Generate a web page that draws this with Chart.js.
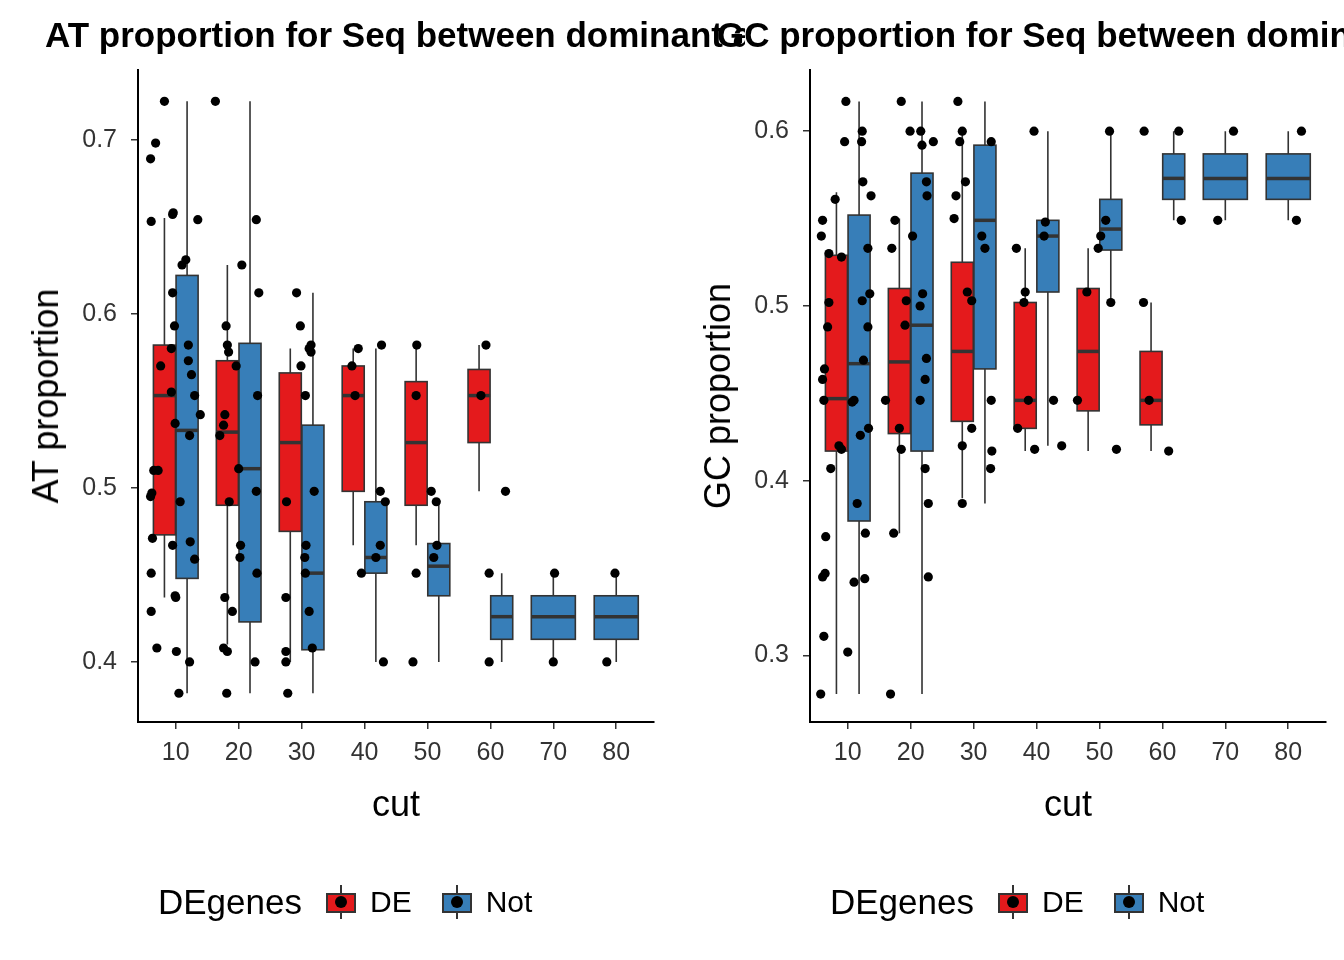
<!DOCTYPE html>
<html>
<head>
<meta charset="utf-8">
<script src="https://cdn.jsdelivr.net/npm/chart.js@4.4.1/dist/chart.umd.min.js"></script>
<style>
  body { margin: 0; background: #fff; font-family: "Liberation Sans", Arial, sans-serif; }
  .panel { position: absolute; top: 0; width: 672px; height: 960px; }
  .panel canvas { position: absolute; left: 0; top: 0; }
  .clip { position: absolute; top: 0; left: 0; width: 745px; height: 80px; overflow: hidden; }
  .title { position: absolute; top: 15px; left: 45px; white-space: nowrap; font-weight: bold; font-size: 35px; color: #000; }
  .ytitle { position: absolute; left: 46px; top: 396px; font-size: 36px; transform: translate(-50%, -50%) rotate(-90deg); white-space: nowrap; }
  .xtitle { position: absolute; top: 783px; font-size: 36px; transform: translateX(-50%); }
  .legend { position: absolute; top: 882px; left: 158px; font-size: 35px; display: flex; align-items: center; white-space: nowrap; }
  .key { position: relative; width: 30px; height: 26px; margin: 0 14px 0 24px; }
  .key .bx { position: absolute; left: 0; top: 4px; width: 26px; height: 16px; border: 2px solid #333; }
  .key .ln { position: absolute; left: 14px; top: -4px; width: 2px; height: 34px; background: #333; }
  .key .dt { position: absolute; left: 9px; top: 7px; width: 12px; height: 12px; border-radius: 50%; background: #000; }
  .lab { font-size: 30px; margin-right: 6px; }
</style>
</head>
<body>
<div class="panel" style="left:0">
  <canvas id="at" width="672" height="960"></canvas>
  <div class="clip"><div class="title">AT proportion for Seq between dominant and recessive</div></div>
  <div class="ytitle">AT proportion</div>
  <div class="xtitle" style="left:396px">cut</div>
  <div class="legend">DEgenes
    <div class="key"><div class="ln"></div><div class="bx" style="background:#E41A1C"></div><div class="dt"></div></div><span class="lab">DE</span>
    <div class="key"><div class="ln"></div><div class="bx" style="background:#377EB8"></div><div class="dt"></div></div><span class="lab">Not</span>
  </div>
</div>
<div class="panel" style="left:672px">
  <canvas id="gc" width="672" height="960"></canvas>
  <div class="clip" style="width:672px"><div class="title">GC proportion for Seq between dominant and recessive</div></div>
  <div class="ytitle">GC proportion</div>
  <div class="xtitle" style="left:396px">cut</div>
  <div class="legend">DEgenes
    <div class="key"><div class="ln"></div><div class="bx" style="background:#E41A1C"></div><div class="dt"></div></div><span class="lab">DE</span>
    <div class="key"><div class="ln"></div><div class="bx" style="background:#377EB8"></div><div class="dt"></div></div><span class="lab">Not</span>
  </div>
</div>
<script>
const cuts = [10, 20, 30, 40, 50, 60, 70, 80]
const xTicks = [10, 20, 30, 40, 50, 60, 70, 80]

// [low whisker, q1, median, q3, high whisker]; null where group is absent
const atDE = [
  [0.437, 0.473, 0.553, 0.582, 0.655], [0.41, 0.49, 0.532, 0.573, 0.628], [0.40, 0.475, 0.526, 0.566, 0.58],
  [0.467, 0.498, 0.553, 0.57, 0.58], [0.467, 0.49, 0.526, 0.561, 0.582], [0.498, 0.526, 0.553, 0.568, 0.582], null, null
]
const atNot = [
  [0.382, 0.448, 0.533, 0.622, 0.722], [0.382, 0.423, 0.511, 0.583, 0.722], [0.382, 0.407, 0.451, 0.536, 0.612],
  [0.40, 0.451, 0.46, 0.492, 0.58], [0.40, 0.438, 0.455, 0.468, 0.492], [0.40, 0.413, 0.426, 0.438, 0.451],
  [0.40, 0.413, 0.426, 0.438, 0.451], [0.40, 0.413, 0.426, 0.438, 0.451]
]
const gcDE = [
  [0.278, 0.417, 0.447, 0.529, 0.565], [0.37, 0.427, 0.468, 0.51, 0.55], [0.39, 0.434, 0.474, 0.525, 0.60],
  [0.417, 0.43, 0.446, 0.502, 0.533], [0.417, 0.44, 0.474, 0.51, 0.533], [0.417, 0.432, 0.446, 0.474, 0.502], null, null
]
const gcNot = [
  [0.278, 0.377, 0.467, 0.552, 0.617], [0.278, 0.417, 0.489, 0.576, 0.617], [0.387, 0.464, 0.549, 0.592, 0.617],
  [0.42, 0.508, 0.54, 0.549, 0.60], [0.502, 0.532, 0.544, 0.561, 0.60], [0.549, 0.561, 0.573, 0.587, 0.60],
  [0.549, 0.561, 0.573, 0.587, 0.60], [0.549, 0.561, 0.573, 0.587, 0.60]
]

// jittered observations [cut position, value]
const atPoints = [
  [6.0,0.689],[6.8,0.698],[8.2,0.722],[6.1,0.653],[9.5,0.657],[9.6,0.658],[6.2,0.497],[6.0,0.495],[6.5,0.510],[7.2,0.510],
  [6.3,0.471],[6.1,0.451],[6.1,0.429],[7.0,0.408],[7.6,0.570],[9.5,0.612],[9.8,0.593],[9.3,0.580],[9.3,0.555],[9.9,0.537],
  [9.5,0.467],[9.9,0.438],[10.0,0.437],[10.1,0.406],[10.5,0.382],[10.7,0.492],[11.0,0.628],[11.6,0.631],[12.0,0.582],[12.0,0.573],
  [12.2,0.530],[12.3,0.469],[12.2,0.400],[13.0,0.553],[13.0,0.459],[13.5,0.654],[13.9,0.542],[12.5,0.565],
  [16.3,0.722],[17.6,0.536],[17.0,0.530],[18.0,0.593],[18.2,0.582],[18.4,0.578],[17.8,0.542],[18.5,0.492],[17.8,0.437],[17.6,0.408],
  [18.2,0.406],[18.1,0.382],[19.0,0.429],[19.6,0.570],[20.5,0.628],[20.0,0.511],[20.3,0.467],[20.2,0.460],[22.8,0.654],[23.2,0.612],
  [23.0,0.553],[22.8,0.498],[22.9,0.451],[22.6,0.400],
  [29.2,0.612],[29.8,0.593],[29.9,0.570],[27.6,0.492],[27.5,0.437],[27.5,0.406],[27.5,0.400],[27.8,0.382],[30.6,0.553],[30.7,0.467],
  [30.5,0.460],[30.6,0.451],[31.2,0.580],[31.5,0.582],[31.5,0.578],[32.0,0.498],[31.2,0.429],[31.7,0.408],
  [38.5,0.553],[39.0,0.580],[38.0,0.570],[39.5,0.451],[42.7,0.582],[42.5,0.498],[43.3,0.492],[42.5,0.467],[41.8,0.460],[43.0,0.400],
  [48.3,0.582],[48.2,0.553],[48.2,0.451],[47.7,0.400],[50.6,0.498],[51.4,0.492],[51.5,0.467],[51.0,0.460],
  [58.5,0.553],[59.3,0.582],[59.8,0.451],[59.8,0.400],[62.4,0.498],
  [70.2,0.451],[70.0,0.400],[78.5,0.400],[79.8,0.451]
]
const gcPoints = [
  [5.7,0.278],[6.2,0.311],[6.0,0.345],[6.4,0.347],[6.5,0.368],[6.8,0.488],[7.0,0.530],[6.0,0.549],[5.8,0.540],[7.0,0.502],
  [6.3,0.464],[6.0,0.458],[6.2,0.446],[8.0,0.561],[9.0,0.528],[7.3,0.407],[8.6,0.420],[9.0,0.418],[9.5,0.594],[9.7,0.617],
  [10.0,0.302],[11.0,0.342],[10.7,0.445],[11.0,0.446],[11.5,0.387],[12.3,0.600],[12.2,0.594],[12.4,0.571],[12.5,0.469],[12.0,0.426],
  [12.7,0.344],[12.8,0.370],[13.2,0.533],[13.2,0.488],[13.3,0.430],[13.5,0.507],[13.7,0.563],[12.3,0.503],
  [18.5,0.617],[17.0,0.533],[17.5,0.549],[16.0,0.446],[18.2,0.430],[18.5,0.418],[17.3,0.370],[16.8,0.278],[19.3,0.503],[19.1,0.489],
  [19.9,0.600],[20.3,0.540],[21.6,0.600],[21.8,0.592],[22.5,0.571],[22.6,0.563],[21.9,0.507],[21.5,0.446],[22.5,0.470],[22.3,0.458],
  [22.3,0.407],[22.8,0.387],[22.8,0.345],[23.6,0.594],[21.5,0.500],
  [27.5,0.617],[27.8,0.594],[27.2,0.563],[26.9,0.550],[28.2,0.600],[28.7,0.571],[29.0,0.508],[29.7,0.503],[28.2,0.420],[29.7,0.430],
  [28.2,0.387],[31.3,0.540],[31.8,0.533],[32.8,0.594],[32.8,0.446],[32.9,0.417],[32.7,0.407],
  [36.8,0.533],[38.0,0.502],[38.2,0.508],[37.0,0.430],[38.7,0.446],[39.7,0.418],[41.4,0.548],[41.2,0.540],[44.0,0.420],[42.7,0.446],[39.6,0.600],
  [48.0,0.508],[46.5,0.446],[49.8,0.533],[50.2,0.540],[51.0,0.549],[51.6,0.600],[51.8,0.502],[52.7,0.418],
  [57.0,0.502],[57.9,0.446],[61.0,0.417],[57.1,0.600],[62.6,0.600],[63.0,0.549],
  [68.8,0.549],[71.3,0.600],[81.3,0.549],[82.1,0.600]
]

const boxPlugin = {
  id: 'boxes',
  beforeDatasetsDraw(chart, args, opts) {
    const { ctx, scales: { x, y } } = chart
    const draw = (b, cx, w, fill) => {
      if (!b) return
      const px = x.getPixelForValue(cx)
      const l = x.getPixelForValue(cx - w / 2), r = x.getPixelForValue(cx + w / 2)
      const py = b.map(v => y.getPixelForValue(v))
      ctx.save()
      ctx.strokeStyle = '#333'
      ctx.lineWidth = 1.6
      ctx.beginPath()
      ctx.moveTo(px, py[0]); ctx.lineTo(px, py[1])
      ctx.moveTo(px, py[3]); ctx.lineTo(px, py[4])
      ctx.stroke()
      ctx.fillStyle = fill
      ctx.fillRect(l, py[3], r - l, py[1] - py[3])
      ctx.strokeRect(l, py[3], r - l, py[1] - py[3])
      ctx.lineWidth = 3.5
      ctx.beginPath(); ctx.moveTo(l, py[2]); ctx.lineTo(r, py[2]); ctx.stroke()
      ctx.restore()
    }
    cuts.forEach((c, i) => {
      const de = opts.de[i], not = opts.not[i]
      if (de) {
        draw(de, c - 1.8, 3.5, '#E41A1C')
        draw(not, c + 1.8, 3.5, '#377EB8')
      } else {
        draw(not, c, 7, '#377EB8')
      }
    })
  }
}

const makeChart = (id, pts, de, not, ymin, ymax, yTicks) => {
  new Chart(document.getElementById(id), {
    type: 'scatter',
    data: { datasets: [{ data: pts.map(p => ({ x: p[0], y: p[1] })), backgroundColor: '#000', borderWidth: 0, pointRadius: 4.6 }] },
    plugins: [boxPlugin],
    options: {
      responsive: false, animation: false,
      layout: { padding: { top: 70, right: 18, left: 0, bottom: 0 } },
      plugins: { legend: { display: false }, tooltip: { enabled: false }, boxes: { de, not } },
      scales: {
        x: {
          type: 'linear', min: 4, max: 86,
          afterFit: s => { s.height = 238 },
          afterBuildTicks: s => { s.ticks = xTicks.map(v => ({ value: v })) },
          ticks: { color: '#333', font: { size: 25, family: 'Liberation Sans' }, padding: 9 },
          grid: { drawOnChartArea: false, color: '#333', tickLength: 7, lineWidth: 1.5 },
          border: { color: '#000', width: 2 }
        },
        y: {
          min: ymin, max: ymax,
          afterFit: s => { s.width = 138 },
          afterBuildTicks: s => { s.ticks = yTicks.map(v => ({ value: v })) },
          ticks: { color: '#333', font: { size: 25, family: 'Liberation Sans' }, padding: 14, callback: v => v.toFixed(1) },
          grid: { drawOnChartArea: false, color: '#333', tickLength: 7, lineWidth: 1.5 },
          border: { color: '#000', width: 2 }
        }
      }
    }
  })
}

makeChart('at', atPoints, atDE, atNot, 0.3655, 0.740, [0.4, 0.5, 0.6, 0.7])
makeChart('gc', gcPoints, gcDE, gcNot, 0.262, 0.635, [0.3, 0.4, 0.5, 0.6])
</script>
</body>
</html>
